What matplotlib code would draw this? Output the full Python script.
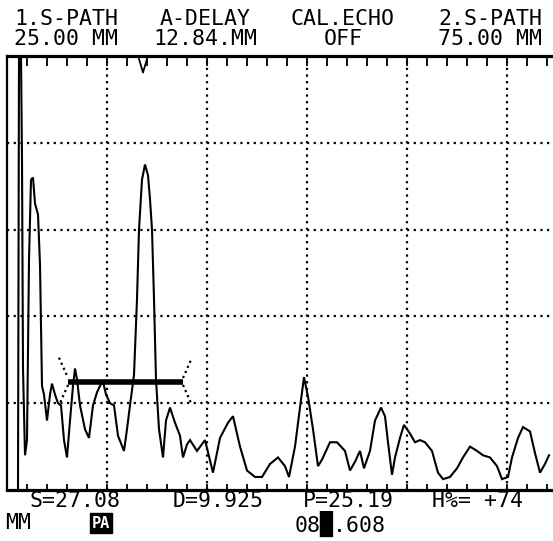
import numpy as np
import matplotlib
matplotlib.use("Agg")
import matplotlib.pyplot as plt

# A-scan trace: screen divisions (x) vs. amplitude in % full screen height (y)
trace_x = [0.11, 0.12, 0.14, 0.15, 0.16, 0.18, 0.20, 0.22, 0.24, 0.26, 0.28,
           0.31, 0.33, 0.35, 0.37, 0.40, 0.43, 0.45, 0.48, 0.51, 0.54, 0.57, 0.60,
           0.63, 0.66, 0.68, 0.70, 0.73, 0.78, 0.82, 0.86, 0.90, 0.93, 0.96, 0.99,
           1.03, 1.07, 1.11, 1.17, 1.20, 1.23, 1.27, 1.30, 1.32, 1.35, 1.38, 1.41,
           1.43, 1.45, 1.47, 1.49, 1.52, 1.56, 1.59, 1.63, 1.68, 1.73, 1.76, 1.80,
           1.83, 1.90, 1.98, 2.06, 2.13, 2.21, 2.26, 2.33, 2.40, 2.48, 2.55, 2.63,
           2.71, 2.78, 2.82, 2.88, 2.93, 2.97, 3.01, 3.06, 3.11, 3.15, 3.23, 3.30,
           3.38, 3.43, 3.48, 3.53, 3.57, 3.63, 3.68, 3.74, 3.78, 3.81, 3.85, 3.88,
           3.93, 3.97, 4.03, 4.08, 4.13, 4.18, 4.25, 4.31, 4.36, 4.43, 4.50, 4.56,
           4.63, 4.70, 4.76, 4.83, 4.90, 4.95, 5.01, 5.05, 5.11, 5.16, 5.23, 5.28,
           5.33, 5.38, 5.42]
trace_y = [0, 100, 100, 76, 28, 8, 11.5, 53, 71.5, 72, 66,
           63.5, 52, 24, 22, 16, 22, 24.5, 22, 20, 19.5, 11.5, 7.5,
           16, 24, 28, 25.5, 19.5, 14, 12, 19.5, 22.5, 24, 25, 22,
           20, 19.5, 12.5, 9, 14, 19.5, 26.5, 44, 60, 71.5, 75, 72.5,
           67, 60, 44, 25.5, 14, 7.5, 16, 19, 15.5, 12.5, 7.5, 10.5,
           11.5, 9, 11.5, 4, 12, 15.5, 17, 10, 4.5, 3, 3, 6,
           7.5, 5.5, 3, 10, 19, 26, 21.5, 14, 5.5, 7, 11, 11,
           9, 4.5, 6.5, 9, 5, 9, 16, 19, 17, 11, 3.5, 7.5,
           12, 15, 13, 11, 11.5, 11, 9, 4, 2.5, 3, 5, 7.5,
           10, 9, 8, 7.5, 5.5, 2.5, 3, 7.5, 12, 14.5, 13.5, 8.5,
           4, 6, 8]

# Gate A: start / end (divisions) and threshold (% FSH)
gate_start = 0.61
gate_end = 1.76
gate_level = 25

# Peak cursor on the top edge (divisions)
cursor_x = 1.36

grid_x = [1, 2, 3, 4, 5]
grid_y = [20, 40, 60, 80]

header_top = ["1.S-PATH", "A-DELAY", "CAL.ECHO", "2.S-PATH"]
header_bot = ["25.00 MM", "12.84.MM", "OFF", "75.00 MM"]
footer_top = ["S=27.08", "D=9.925", "P=25.19", "H%= +74"]

W, H = 553, 541
fig = plt.figure(figsize=(W / 100, H / 100), dpi=100)
fig.patch.set_facecolor("white")

left_px, right_px, top_px, bot_px = 7, 553, 56, 490
ax = fig.add_axes([left_px / W, (H - bot_px) / H,
                   (right_px - left_px) / W, (bot_px - top_px) / H])
ax.set_xlim(0, (right_px - left_px) / 100)
ax.set_ylim(0, 100)
ax.set_facecolor("white")

for side in ("top", "bottom"):
    ax.spines[side].set_linewidth(2.3)
ax.spines["left"].set_linewidth(1.6)
ax.spines["right"].set_visible(False)

minor_ticks = np.arange(0.2, 5.45, 0.2)
ax.set_xticks(minor_ticks)
ax.set_yticks([])
ax.tick_params(axis="x", direction="in", top=False, bottom=True, length=4,
               width=1.3, labelbottom=False, color="black")
top_ax = ax.secondary_xaxis("top")
top_ax.set_xticks(minor_ticks)
top_ax.tick_params(axis="x", direction="in", length=7, width=1.3,
                   labeltop=False, color="black")
top_ax.spines["top"].set_visible(False)

dot = (0, (1, 2))
for gx in grid_x:
    ax.axvline(gx, color="black", lw=1.6, ls=dot, zorder=1)
for gy in grid_y:
    ax.axhline(gy, color="black", lw=1.6, ls=dot, zorder=1)

ax.plot(trace_x, trace_y, color="black", lw=1.5, zorder=3, clip_on=True,
        solid_joinstyle="miter")

# gate bar with end flags
ax.plot([gate_start, gate_end], [gate_level, gate_level], color="black",
        lw=4.0, solid_capstyle="butt", zorder=4)
flag_dx, flag_dy = 0.09, 5.5
gate_dots = (0, (1, 1.5))
ax.plot([gate_start - flag_dx, gate_start], [gate_level + flag_dy, gate_level + 0.8],
        color="black", lw=1.6, ls=gate_dots)
ax.plot([gate_start, gate_start - flag_dx], [gate_level - 0.8, gate_level - flag_dy],
        color="black", lw=1.6, ls=gate_dots)
ax.plot([gate_end, gate_end + flag_dx], [gate_level + 0.8, gate_level + flag_dy],
        color="black", lw=1.6, ls=gate_dots)
ax.plot([gate_end, gate_end + flag_dx], [gate_level - 0.8, gate_level - flag_dy],
        color="black", lw=1.6, ls=gate_dots)

# small "v" cursor under the top edge
ax.plot([cursor_x - 0.04, cursor_x, cursor_x + 0.04], [99.3, 96.2, 99.3],
        color="black", lw=1.3, clip_on=False)

mono = dict(family="DejaVu Sans Mono", fontsize=15.5, color="black",
            ha="center", va="center")

def put(xp, yp, s, **kw):
    opts = dict(mono)
    opts.update(kw)
    fig.text(xp / W, 1 - yp / H, s, **opts)

head_x = [66, 205, 343, 490]
for xp, s in zip(head_x, header_top):
    put(xp, 19, s)
for xp, s in zip(head_x, header_bot):
    put(xp, 39, s)

foot_x = [75, 218, 348, 477]
for xp, s in zip(foot_x, footer_top):
    put(xp, 501, s)

put(18, 523, "MM")
put(101, 523, "PA", fontsize=11, weight="bold", color="white",
    bbox=dict(boxstyle="square,pad=0.15", fc="black", ec="black"))
put(340, 524, "08\u2588.608")

fig.savefig("out.png", dpi=100, facecolor="white")
